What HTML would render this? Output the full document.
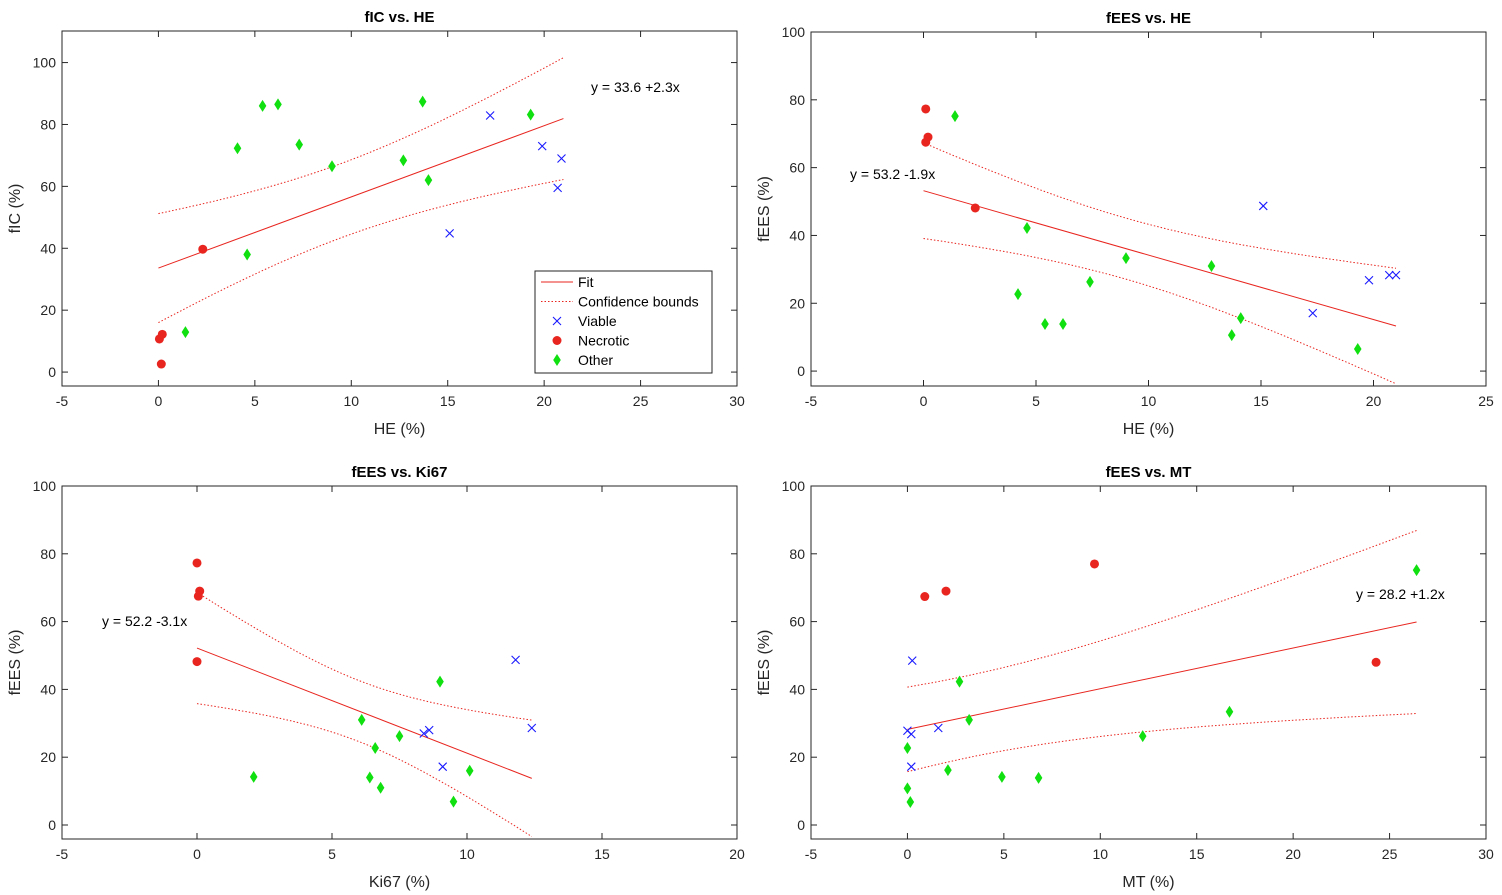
<!DOCTYPE html>
<html><head><meta charset="utf-8"><style>
html,body{margin:0;padding:0;background:#fff;}
svg{display:block;font-family:"Liberation Sans",Arial,sans-serif;}
</style></head><body>
<svg id="chart" width="1502" height="895" viewBox="0 0 1502 895" xmlns="http://www.w3.org/2000/svg"></svg>
<script>
// ---- Panel 1: fIC vs HE ----
const p1ViableX=[17.2,19.9,20.9,20.7,15.1];
const p1ViableY=[82.9,73.0,69.0,59.5,44.8];
const p1NecroticX=[0.05,0.2,0.15,2.3];
const p1NecroticY=[10.7,12.2,2.6,39.7];
const p1OtherX=[1.4,4.1,4.6,5.4,6.2,7.3,9.0,12.7,13.7,14.0,19.3];
const p1OtherY=[12.9,72.3,38.0,86.0,86.5,73.5,66.5,68.4,87.4,62.0,83.2];
const p1Fit=[33.6,2.3];
const p1FitRange=[0,21];
const p1Ci=[144,1.84,9.5];
// ---- Panel 2: fEES vs HE ----
const p2ViableX=[15.1,17.3,19.8,20.7,21.0];
const p2ViableY=[48.7,17.1,26.8,28.3,28.3];
const p2NecroticX=[0.1,0.2,0.1,2.3];
const p2NecroticY=[77.3,69.0,67.5,48.1];
const p2OtherX=[1.4,4.2,4.6,5.4,6.2,7.4,9.0,12.8,13.7,14.1,19.3];
const p2OtherY=[75.2,22.7,42.2,13.9,13.9,26.3,33.3,31.0,10.6,15.6,6.5];
const p2Fit=[53.2,-1.9];
const p2FitRange=[0,21];
const p2Ci=[81,1.454,9];
// ---- Panel 3: fEES vs Ki67 ----
const p3ViableX=[11.8,12.4,8.4,8.6,9.1];
const p3ViableY=[48.7,28.6,27.0,28.0,17.2];
const p3NecroticX=[0,0.1,0.05,0];
const p3NecroticY=[77.3,69.0,67.5,48.2];
const p3OtherX=[2.1,6.1,6.4,6.6,6.8,7.5,9.0,9.5,10.1];
const p3OtherY=[14.2,31.0,14.0,22.7,11.0,26.2,42.3,6.9,16.0];
const p3Fit=[52.2,-3.1];
const p3FitRange=[0,12.4];
const p3Ci=[81,5.22,6];
// ---- Panel 4: fEES vs MT ----
const p4ViableX=[0.25,0,0.2,1.6,0.2];
const p4ViableY=[48.5,27.8,26.8,28.6,17.2];
const p4NecroticX=[0.9,2.0,9.7,24.3];
const p4NecroticY=[67.4,69.0,77.0,48.0];
const p4OtherX=[0,0,0.15,2.7,2.1,3.2,4.9,6.8,16.7,12.2,26.4];
const p4OtherY=[22.7,10.8,6.8,42.3,16.2,31.0,14.2,13.9,33.4,26.2,75.2];
const p4Fit=[28.2,1.2];
const p4FitRange=[0,26.4];
const p4Ci=[146.4,1.064,3];

const NS="http://www.w3.org/2000/svg";
const svg=document.getElementById('chart');
function mk(tag,attrs,parent){const e=document.createElementNS(NS,tag);for(const k in attrs)e.setAttribute(k,attrs[k]);(parent||svg).appendChild(e);return e;}

const RED="#e8251f",GREEN="#10e010",BLUE="#1a1aff";

function panel(cfg){
  const g=mk('g',{});
  
  
  const {L,R,T,B,xmin,xmax,ymin,ymax}=cfg;
  const sx=v=>L+(v-xmin)/(xmax-xmin)*(R-L);
  const sy=v=>B-(v-ymin)/(ymax-ymin)*(B-T);
  const bg=mk('rect',{x:L,y:T,width:R-L,height:B-T,fill:'#fff',stroke:'#262626','stroke-width':1},g);
  
  
  // ticks
  cfg.xticks.forEach(t=>{
    const x=sx(t);
    mk('line',{x1:x,x2:x,y1:B,y2:B-6,stroke:'#262626'},g);
    mk('line',{x1:x,x2:x,y1:T,y2:T+6,stroke:'#262626'},g);
    const tx=mk('text',{x:x,y:B+20,'text-anchor':'middle','font-size':14,fill:'#262626'},g);
    tx.textContent=t;
    
    
  });
  cfg.yticks.forEach(t=>{
    const y=sy(t);
    mk('line',{x1:L,x2:L+6,y1:y,y2:y,stroke:'#262626'},g);
    mk('line',{x1:R,x2:R-6,y1:y,y2:y,stroke:'#262626'},g);
    const tx=mk('text',{x:L-6,y:y+5,'text-anchor':'end','font-size':14,fill:'#262626'},g);
    tx.textContent=t;
    
    
  });
  const ti=mk('text',{x:(L+R)/2,y:T-9,'text-anchor':'middle','font-size':15,'font-weight':'bold',fill:'#000'},g);
  ti.textContent=cfg.title;
  
  
  const xl=mk('text',{x:(L+R)/2,y:B+48,'text-anchor':'middle','font-size':16,fill:'#262626'},g);
  xl.textContent=cfg.xlabel;
  
  
  const yc=(T+B)/2;
  const yl=mk('text',{x:L-42,y:yc,'text-anchor':'middle','font-size':16,fill:'#262626',transform:`rotate(-90 ${L-42} ${yc})`},g);
  yl.textContent=cfg.ylabel;
  
  
  // fit & ci
  const [b0,b1]=cfg.fit;const [x0,x1]=cfg.range;const [ca,cb,cm]=cfg.ci;
  const fl=mk('line',{x1:sx(x0),y1:sy(b0+b1*x0),x2:sx(x1),y2:sy(b0+b1*x1),stroke:RED,'stroke-width':1},g);
  
  
  [1,-1].forEach(sgn=>{
    let d='';
    for(let i=0;i<=60;i++){const x=x0+(x1-x0)*i/60;const h=Math.sqrt(ca+cb*(x-cm)*(x-cm));const y=b0+b1*x+sgn*h;
      d+=(i?'L':'M')+sx(x).toFixed(1)+' '+sy(y).toFixed(1);}
    const p=mk('path',{d:d,fill:'none',stroke:RED,'stroke-width':1,'stroke-dasharray':'1.5 2'},g);
    
    
  });
  // markers
  cfg.vx.forEach((v,i)=>{
    const x=sx(v),y=sy(cfg.vy[i]);
    const m=mk('path',{d:`M${x-4} ${y-4}L${x+4} ${y+4}M${x-4} ${y+4}L${x+4} ${y-4}`,stroke:BLUE,'stroke-width':1.1,fill:'none'},g);
    
    
  });
  cfg.nx.forEach((v,i)=>{
    const c=mk('circle',{cx:sx(v),cy:sy(cfg.ny[i]),r:4.5,fill:RED},g);
    
    
  });
  cfg.ox.forEach((v,i)=>{
    const x=sx(v),y=sy(cfg.oy[i]);
    const d=mk('path',{d:`M${x} ${y-6}L${x+3.8} ${y}L${x} ${y+6}L${x-3.8} ${y}Z`,fill:GREEN},g);
    
    
  });
  const eq=mk('text',{x:cfg.eqx,y:cfg.eqy,'font-size':14,fill:'#000'},g);
  eq.textContent=cfg.eq;
  
  
  return g;
}
const r=a=>a;
panel({name:'panel-fic-vs-he',L:62,R:737,T:31,B:386,xmin:-5,xmax:30,ymin:-4.5,ymax:110.2,
 xticks:[-5,0,5,10,15,20,25,30],yticks:[0,20,40,60,80,100],title:'fIC vs. HE',xlabel:'HE (%)',ylabel:'fIC (%)',
 fit:p1Fit,range:p1FitRange,ci:p1Ci,vx:p1ViableX,vy:p1ViableY,nx:p1NecroticX,ny:p1NecroticY,ox:p1OtherX,oy:p1OtherY,
 eq:'y = 33.6 +2.3x',eqx:591,eqy:92});
panel({name:'panel-fees-vs-he',L:811,R:1486,T:32,B:386,xmin:-5,xmax:25,ymin:-4.4,ymax:100,
 xticks:[-5,0,5,10,15,20,25],yticks:[0,20,40,60,80,100],title:'fEES vs. HE',xlabel:'HE (%)',ylabel:'fEES (%)',
 fit:p2Fit,range:p2FitRange,ci:p2Ci,vx:p2ViableX,vy:p2ViableY,nx:p2NecroticX,ny:p2NecroticY,ox:p2OtherX,oy:p2OtherY,
 eq:'y = 53.2 -1.9x',eqx:850,eqy:179});
panel({name:'panel-fees-vs-ki67',L:62,R:737,T:486,B:839,xmin:-5,xmax:20,ymin:-4.13,ymax:100,
 xticks:[-5,0,5,10,15,20],yticks:[0,20,40,60,80,100],title:'fEES vs. Ki67',xlabel:'Ki67 (%)',ylabel:'fEES (%)',
 fit:p3Fit,range:p3FitRange,ci:p3Ci,vx:p3ViableX,vy:p3ViableY,nx:p3NecroticX,ny:p3NecroticY,ox:p3OtherX,oy:p3OtherY,
 eq:'y = 52.2 -3.1x',eqx:102,eqy:626});
panel({name:'panel-fees-vs-mt',L:811,R:1486,T:486,B:839,xmin:-5,xmax:30,ymin:-4.13,ymax:100,
 xticks:[-5,0,5,10,15,20,25,30],yticks:[0,20,40,60,80,100],title:'fEES vs. MT',xlabel:'MT (%)',ylabel:'fEES (%)',
 fit:p4Fit,range:p4FitRange,ci:p4Ci,vx:p4ViableX,vy:p4ViableY,nx:p4NecroticX,ny:p4NecroticY,ox:p4OtherX,oy:p4OtherY,
 eq:'y = 28.2 +1.2x',eqx:1356,eqy:599});

// legend
const lg=mk('g',{});


mk('rect',{x:535,y:271,width:177,height:102,fill:'#fff',stroke:'#262626'},lg);
const items=['Fit','Confidence bounds','Viable','Necrotic','Other'];
items.forEach((t,i)=>{
  const y=282+i*19.5;
  const e=mk('g',{},lg);
  
  
  if(i===0)mk('line',{x1:541,x2:573,y1:y,y2:y,stroke:RED},e);
  if(i===1)mk('line',{x1:541,x2:573,y1:y,y2:y,stroke:RED,'stroke-dasharray':'1.5 2'},e);
  if(i===2)mk('path',{d:`M553 ${y-4}L561 ${y+4}M553 ${y+4}L561 ${y-4}`,stroke:BLUE,'stroke-width':1.1},e);
  if(i===3)mk('circle',{cx:557,cy:y,r:4.5,fill:RED},e);
  if(i===4)mk('path',{d:`M557 ${y-6}L560.8 ${y}L557 ${y+6}L553.2 ${y}Z`,fill:GREEN},e);
  const tx=mk('text',{x:578,y:y+5,'font-size':14,fill:'#000'},e);
  tx.textContent=t;
});
</script>
</body></html>
